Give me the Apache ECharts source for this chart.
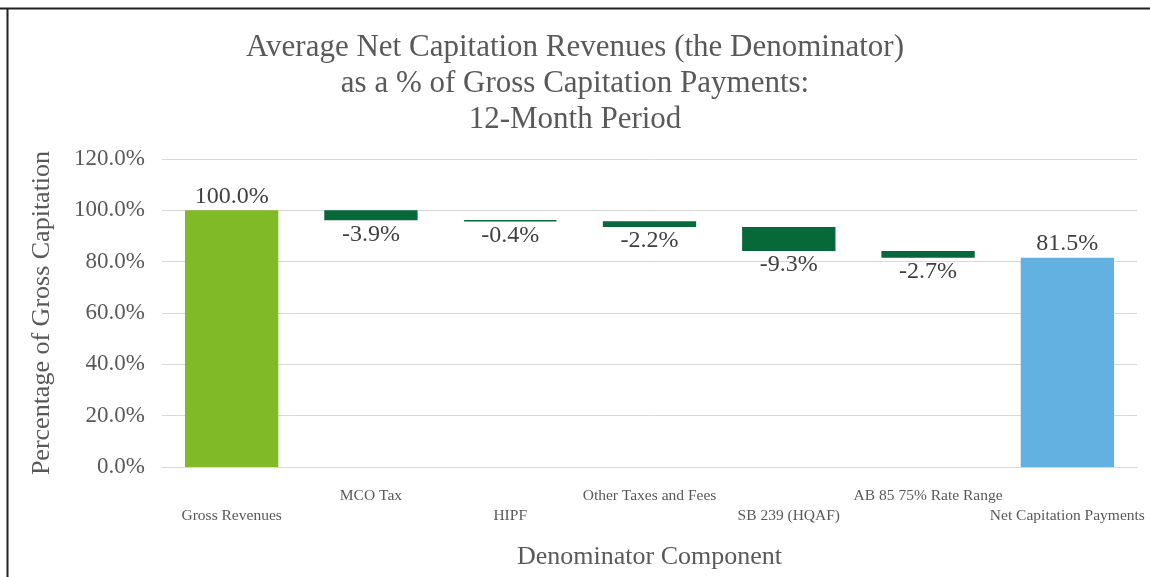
<!DOCTYPE html>
<html><head><meta charset="utf-8">
<script src="https://cdn.jsdelivr.net/npm/echarts@6/dist/echarts.min.js"></script>
<style>html,body{margin:0;padding:0;background:#fff}#c{width:1150px;height:577px}</style>
</head><body><div id="c"></div>
<script>
const categories = ['Gross Revenues','MCO Tax','HIPF','Other Taxes and Fees','SB 239 (HQAF)','AB 85 75% Rate Range','Net Capitation Payments'];
const values = [100.0, -3.9, -0.4, -2.2, -9.3, -2.7, 81.5];
const kinds = ['total','delta','delta','delta','delta','delta','total'];
const yTicks = [0, 20, 40, 60, 80, 100, 120];

const colors = {total0:'#80BA26', delta:'#07693A', totalEnd:'#62B1E1'};
// compute waterfall bases
let running = 0;
const base = [], visible = [];
values.forEach((v,i)=>{
  if (kinds[i]==='total'){ base.push(0); visible.push(v); running = v; }
  else { const nr = running + v; base.push(nr); visible.push(-v); running = nr; }
});
const font = '"Liberation Serif", "DejaVu Serif", serif';
const chart = echarts.init(document.getElementById('c'));
chart.setOption({
  animation:false,
  title:{text:'Average Net Capitation Revenues (the Denominator)\nas a % of Gross Capitation Payments:\n12-Month Period',
    left:'center', top:25, textStyle:{fontFamily:font, fontSize:31, fontWeight:'normal', color:'#595959', lineHeight:36}},
  grid:{left:162, right:13, top:159, bottom:110, containLabel:false},
  xAxis:{type:'category', data:categories,
    name:'Denominator Component', nameLocation:'middle', nameGap:77,
    nameTextStyle:{fontFamily:font, fontSize:26, color:'#595959'},
    axisLine:{show:true, lineStyle:{color:'#d9d9d9'}}, axisTick:{show:false},
    axisLabel:{interval:0, margin:19, fontFamily:font, fontSize:15.5, color:'#595959', lineHeight:20,
      formatter:(v,i)=> i%2===0 ? '\n'+v : v}},
  yAxis:{type:'value', min:0, max:120, interval:20,
    name:'Percentage of Gross Capitation', nameLocation:'middle', nameGap:107,
    nameTextStyle:{fontFamily:font, fontSize:26, color:'#595959'},
    axisLine:{show:false}, axisTick:{show:false},
    splitLine:{lineStyle:{color:'#d9d9d9'}},
    axisLabel:{margin:17, fontFamily:font, fontSize:23, color:'#595959', formatter:v=>v.toFixed(1)+'%'}},
  series:[
    {type:'bar', stack:'w', data:base, itemStyle:{color:'transparent'}, barWidth:'67%', silent:true},
    {type:'bar', stack:'w', barWidth:'67%',
      data:visible.map((v,i)=>({value:v,
        itemStyle: kinds[i]==='total'
          ? {color: i===0?colors.total0:colors.totalEnd}
          : {color: colors.delta, borderColor: colors.delta, borderWidth: 1.5},
        label:{show:true, position: kinds[i]==='total' ? 'top' : 'bottom', distance:2,
          formatter: values[i].toFixed(1)+'%'}})),
      label:{fontFamily:font, fontSize:24, color:'#404040'}}
  ],
  graphic:[
    {type:'line', shape:{x1:0,y1:8.5,x2:1150,y2:8.5}, style:{stroke:'#222', lineWidth:2}},
    {type:'line', shape:{x1:7.5,y1:8,x2:7.5,y2:577}, style:{stroke:'#222', lineWidth:2}}
  ]
});
</script></body></html>
